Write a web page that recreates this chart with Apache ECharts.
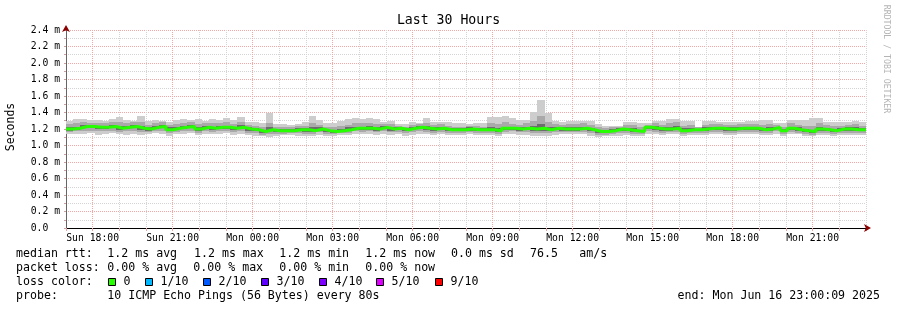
<!DOCTYPE html>
<html><head><meta charset="utf-8">
<script src="https://cdn.jsdelivr.net/npm/echarts@6/dist/echarts.min.js"></script>
<style>html,body{margin:0;padding:0;background:#fff}#c{width:897px;height:310px}</style>
</head><body><div id="c"></div>
<script>
// ---- data (ms) : 112 consolidated columns covering Sun 17:00 -> Mon 23:00 ----
const startHour = 17, endHour = 47;
const xTickLabels = {18:'Sun 18:00',21:'Sun 21:00',24:'Mon 00:00',27:'Mon 03:00',30:'Mon 06:00',33:'Mon 09:00',36:'Mon 12:00',39:'Mon 15:00',42:'Mon 18:00',45:'Mon 21:00'};

const rttMedian = [
 1.20,1.21,1.23,1.23,1.22,1.22,1.23,1.21,1.22,1.23,
 1.21,1.20,1.22,1.23,1.19,1.21,1.22,1.23,1.20,1.22,
 1.21,1.22,1.22,1.21,1.22,1.20,1.19,1.17,1.19,1.18,
 1.18,1.18,1.19,1.19,1.18,1.20,1.18,1.17,1.18,1.19,
 1.21,1.21,1.21,1.20,1.22,1.20,1.21,1.19,1.21,1.22,
 1.21,1.20,1.21,1.19,1.19,1.19,1.20,1.19,1.19,1.19,
 1.18,1.21,1.21,1.20,1.21,1.20,1.21,1.19,1.21,1.20,
 1.20,1.20,1.21,1.19,1.17,1.17,1.18,1.20,1.19,1.18,
 1.17,1.22,1.21,1.20,1.20,1.21,1.18,1.19,1.19,1.20,
 1.21,1.21,1.20,1.20,1.21,1.21,1.21,1.19,1.20,1.22,
 1.18,1.21,1.19,1.18,1.17,1.20,1.19,1.18,1.20,1.20,1.19,1.19];
const rttMax = [
 1.30,1.32,1.32,1.31,1.31,1.30,1.32,1.34,1.31,1.30,
 1.36,1.30,1.31,1.30,1.29,1.31,1.32,1.31,1.32,1.30,
 1.32,1.31,1.33,1.31,1.34,1.28,1.28,1.27,1.39,1.26,
 1.26,1.25,1.26,1.28,1.36,1.31,1.27,1.27,1.30,1.32,
 1.33,1.32,1.33,1.32,1.28,1.30,1.26,1.26,1.29,1.27,
 1.33,1.29,1.29,1.28,1.27,1.27,1.26,1.27,1.27,1.34,
 1.34,1.36,1.33,1.31,1.31,1.41,1.55,1.39,1.30,1.29,
 1.30,1.30,1.30,1.30,1.26,1.24,1.24,1.24,1.29,1.29,
 1.27,1.27,1.30,1.30,1.32,1.32,1.30,1.30,1.23,1.30,
 1.30,1.29,1.29,1.29,1.29,1.30,1.30,1.31,1.31,1.27,
 1.27,1.31,1.31,1.31,1.33,1.33,1.29,1.28,1.29,1.29,1.30,1.28];
const rttMin = [
 1.14,1.14,1.14,1.15,1.13,1.14,1.15,1.14,1.13,1.14,
 1.13,1.14,1.15,1.14,1.12,1.14,1.14,1.15,1.13,1.14,
 1.14,1.14,1.15,1.13,1.14,1.13,1.12,1.11,1.10,1.12,
 1.13,1.13,1.12,1.11,1.12,1.13,1.12,1.12,1.13,1.13,
 1.14,1.14,1.14,1.13,1.14,1.13,1.14,1.12,1.13,1.14,
 1.14,1.13,1.14,1.13,1.13,1.13,1.14,1.13,1.13,1.13,
 1.12,1.14,1.14,1.13,1.13,1.12,1.12,1.12,1.13,1.14,
 1.14,1.14,1.14,1.12,1.10,1.11,1.11,1.12,1.13,1.12,
 1.12,1.14,1.14,1.13,1.14,1.14,1.12,1.13,1.13,1.13,
 1.14,1.14,1.13,1.13,1.14,1.14,1.14,1.13,1.13,1.14,
 1.12,1.14,1.14,1.12,1.11,1.13,1.13,1.12,1.13,1.13,1.13,1.13];
const rttHi2 = [
 1.26,1.27,1.28,1.27,1.27,1.27,1.28,1.28,1.27,1.28,
 1.28,1.25,1.27,1.28,1.25,1.26,1.27,1.28,1.26,1.27,
 1.27,1.27,1.28,1.26,1.28,1.25,1.24,1.23,1.27,1.23,
 1.23,1.23,1.24,1.24,1.27,1.25,1.23,1.22,1.24,1.25,
 1.27,1.27,1.27,1.26,1.26,1.26,1.24,1.23,1.25,1.26,
 1.27,1.25,1.26,1.24,1.23,1.23,1.24,1.24,1.23,1.27,
 1.26,1.28,1.26,1.25,1.27,1.30,1.36,1.28,1.26,1.25,
 1.26,1.26,1.27,1.25,1.22,1.21,1.22,1.23,1.25,1.25,
 1.23,1.25,1.27,1.25,1.27,1.28,1.24,1.25,1.22,1.25,
 1.26,1.26,1.25,1.25,1.26,1.26,1.26,1.25,1.26,1.25,
 1.23,1.27,1.25,1.24,1.24,1.27,1.25,1.24,1.24,1.25,1.26,1.24];
const rttLo2 = [
 1.16,1.17,1.18,1.18,1.17,1.17,1.18,1.16,1.17,1.18,
 1.16,1.16,1.17,1.18,1.15,1.16,1.17,1.18,1.15,1.17,
 1.16,1.17,1.17,1.16,1.17,1.15,1.15,1.13,1.14,1.14,
 1.14,1.15,1.15,1.14,1.14,1.16,1.14,1.14,1.15,1.15,
 1.17,1.16,1.17,1.16,1.17,1.16,1.16,1.15,1.16,1.17,
 1.16,1.15,1.16,1.15,1.15,1.15,1.16,1.15,1.15,1.15,
 1.14,1.16,1.17,1.16,1.16,1.15,1.15,1.15,1.16,1.16,
 1.16,1.16,1.16,1.15,1.13,1.13,1.14,1.15,1.15,1.14,
 1.14,1.17,1.16,1.15,1.16,1.16,1.14,1.15,1.15,1.15,
 1.16,1.16,1.15,1.15,1.16,1.16,1.16,1.15,1.15,1.17,
 1.14,1.16,1.15,1.14,1.13,1.15,1.15,1.14,1.15,1.15,1.15,1.15];
const rttHi1 = [
 1.22,1.23,1.25,1.25,1.24,1.24,1.25,1.24,1.24,1.25,
 1.24,1.22,1.24,1.25,1.22,1.23,1.24,1.25,1.23,1.24,
 1.23,1.24,1.24,1.23,1.25,1.22,1.21,1.19,1.22,1.20,
 1.20,1.20,1.21,1.21,1.22,1.22,1.20,1.19,1.20,1.22,
 1.23,1.23,1.24,1.22,1.24,1.22,1.23,1.21,1.23,1.24,
 1.24,1.22,1.23,1.21,1.21,1.21,1.22,1.21,1.21,1.22,
 1.21,1.23,1.23,1.22,1.23,1.24,1.26,1.22,1.23,1.22,
 1.22,1.22,1.23,1.21,1.19,1.19,1.20,1.21,1.21,1.21,
 1.19,1.24,1.24,1.22,1.23,1.24,1.21,1.21,1.20,1.22,
 1.23,1.23,1.22,1.22,1.23,1.23,1.23,1.21,1.22,1.23,
 1.20,1.23,1.22,1.20,1.19,1.22,1.21,1.20,1.21,1.22,1.22,1.21];
const rttLo1 = [
 1.18,1.19,1.21,1.21,1.20,1.20,1.21,1.19,1.20,1.21,
 1.19,1.18,1.20,1.21,1.17,1.19,1.20,1.21,1.18,1.20,
 1.19,1.20,1.20,1.19,1.20,1.18,1.17,1.15,1.17,1.16,
 1.16,1.16,1.17,1.16,1.16,1.18,1.16,1.15,1.16,1.17,
 1.19,1.19,1.19,1.18,1.20,1.18,1.19,1.17,1.19,1.20,
 1.19,1.18,1.19,1.17,1.17,1.17,1.18,1.17,1.17,1.17,
 1.16,1.19,1.19,1.18,1.19,1.18,1.18,1.17,1.19,1.18,
 1.18,1.18,1.19,1.17,1.15,1.15,1.16,1.18,1.17,1.16,
 1.16,1.20,1.19,1.18,1.18,1.19,1.16,1.17,1.17,1.18,
 1.19,1.19,1.18,1.18,1.19,1.19,1.19,1.17,1.18,1.20,
 1.17,1.19,1.17,1.16,1.15,1.18,1.17,1.16,1.18,1.18,1.17,1.17];

const rttStats = ['1.2 ms avg','1.2 ms max','1.2 ms min','1.2 ms now','0.0 ms sd','76.5','am/s'];
const lossStats = ['0.00 % avg','0.00 % max','0.00 % min','0.00 % now'];
const lossLabels = ['0','1/10','2/10','3/10','4/10','5/10','9/10'];
const lossColors = ['#26ff00','#00b8ff','#0059ff','#5e00ff','#7e00ff','#dd00ff','#ff0000'];

// ---- build ----
const nCol = rttMedian.length;
const colH = (endHour - startHour) / nCol;
const cols = rttMedian.map((m, i) => [startHour + i*colH, startHour + (i+1)*colH,
  rttMin[i], rttLo2[i], rttLo1[i], m, rttHi1[i], rttHi2[i], rttMax[i]]);
const medPts = rttMedian.map((m, i) => [startHour + i*colH, m]);
medPts.push([endHour, rttMedian[nCol-1]]);

const MONO = 'DejaVu Sans Mono';
const chart = echarts.init(document.getElementById('c'), null, {renderer:'canvas'});

function txt(t, x, y, extra) {
  return Object.assign({type:'text', x:x, y:y, silent:true,
    style:{text:t, fontFamily:MONO, fontSize:11.6, fill:'#000', verticalAlign:'middle'}}, extra||{});
}
const graphics = [];
graphics.push({type:'text', x:11, y:127, rotation:Math.PI/2, silent:true,
  style:{text:'Seconds', fontFamily:MONO, fontSize:11.5, fill:'#000', align:'center', verticalAlign:'middle'}});
graphics.push({type:'text', x:886, y:59, rotation:-Math.PI/2, silent:true,
  style:{text:'RRDTOOL / TOBI OETIKER', fontFamily:MONO, fontSize:8.2, fill:'#b4b4b4', align:'center', verticalAlign:'middle'}});
graphics.push(txt('median rtt:', 16, 254));
[107.3,194,279.3,365.3,451,530,579.3].forEach((x,i)=>graphics.push(txt(rttStats[i], x, 254)));
graphics.push(txt('packet loss:', 16, 268));
[107.3,193.3,279.3,365.3].forEach((x,i)=>graphics.push(txt(lossStats[i], x, 268)));
graphics.push(txt('loss color:', 16, 282));
[108.5,145.5,203.5,261.5,319.5,376.5,435.5].forEach((x,i)=>{
  graphics.push({type:'rect', silent:true, shape:{x:x, y:278.5, width:7, height:7},
    style:{fill:lossColors[i], stroke:'#000', lineWidth:1}});
  graphics.push(txt(lossLabels[i], x+15, 282));
});
graphics.push(txt('probe:', 16, 296));
graphics.push(txt('10 ICMP Echo Pings (56 Bytes) every 80s', 107.3, 296));
graphics.push({type:'text', x:880, y:296, silent:true,
  style:{text:'end: Mon Jun 16 23:00:09 2025', fontFamily:MONO, fontSize:11.6, fill:'#000', align:'right', verticalAlign:'middle'}});

const option = {
  animation:false,
  backgroundColor:'#fff',
  title:{text:'Last 30 Hours', left:'center', top:9,
    textStyle:{fontFamily:MONO, fontSize:13.2, fontWeight:'normal', color:'#000'}},
  grid:{left:66, right:31, top:30, bottom:82, containLabel:false},
  xAxis:[
    {type:'value', min:startHour, max:endHour, position:'bottom',
     axisLine:{show:true, lineStyle:{color:'#8b0000', width:1}, symbol:['none','arrow'], symbolSize:[6,7], symbolOffset:[0,5]},
     axisTick:{show:false}, axisLabel:{show:false}, splitLine:{show:false}},
    {type:'value', min:startHour, max:endHour, interval:1, position:'bottom',
     axisLine:{show:true, lineStyle:{color:'#000', width:1}},
     axisTick:{show:true, length:3, lineStyle:{color:'#eaa0a0'}},
     axisLabel:{fontFamily:MONO, fontSize:9.75, color:'#000', margin:5,
       formatter:(v)=> xTickLabels[Math.round(v)] && Math.abs(v-Math.round(v))<1e-6 ? xTickLabels[Math.round(v)] : ''},
     splitLine:{show:true, lineStyle:{color:['#d4d4d4','#f2a6a6','#d4d4d4'], type:[1,1], width:1}}}
  ],
  yAxis:[
    {type:'value', min:0, max:2.4, position:'left',
     axisLine:{show:true, lineStyle:{color:'#8b0000', width:1}, symbol:['none','arrow'], symbolSize:[6,7], symbolOffset:[0,5]},
     axisTick:{show:false}, axisLabel:{show:false}, splitLine:{show:false}},
    {type:'value', min:0, max:2.4, interval:0.1, position:'left', offset:0,
     axisLine:{show:true, lineStyle:{color:'#666', width:1}},
     axisTick:{show:true, length:2, lineStyle:{color:'#c8a0a0'}},
     axisLabel:{fontFamily:MONO, fontSize:9.75, color:'#000', margin:6,
       formatter:(v)=>{const k=Math.round(v*10); if(k%2!==0) return ''; return k===0 ? '0.0  ' : (k/10).toFixed(1)+' m';}},
     splitLine:{show:true, lineStyle:{color:['#f2a6a6','#d4d4d4'], type:[1,1], width:1}}}
  ],
  series:[
    {type:'custom', xAxisIndex:1, yAxisIndex:1, silent:true, z:2,
     data:cols, encode:{x:[0,1], y:[2,8]},
     renderItem:function(params, api){
       const t0 = api.value(0), t1 = api.value(1);
       const xa = Math.round(api.coord([t0,0])[0]), xb = Math.round(api.coord([t1,0])[0]);
       const band = (lo, hi, col) => {
         const ya = Math.round(api.coord([t0,hi])[1]), yb = Math.round(api.coord([t0,lo])[1]);
         return {type:'rect', shape:{x:xa, y:ya, width:xb-xa, height:Math.max(1,yb-ya)}, style:{fill:col}};
       };
       return {type:'group', children:[
         band(api.value(2), api.value(8), '#cdcdcd'),
         band(api.value(3), api.value(7), '#a9a9a9'),
         band(api.value(4), api.value(6), '#6c6c6c')
       ]};
     }},
    {type:'line', xAxisIndex:1, yAxisIndex:1, silent:true, z:3, step:'end',
     data:medPts, symbol:'none', lineStyle:{color:'#26ff00', width:3}}
  ],
  graphic:graphics
};
chart.setOption(option);
</script></body></html>
